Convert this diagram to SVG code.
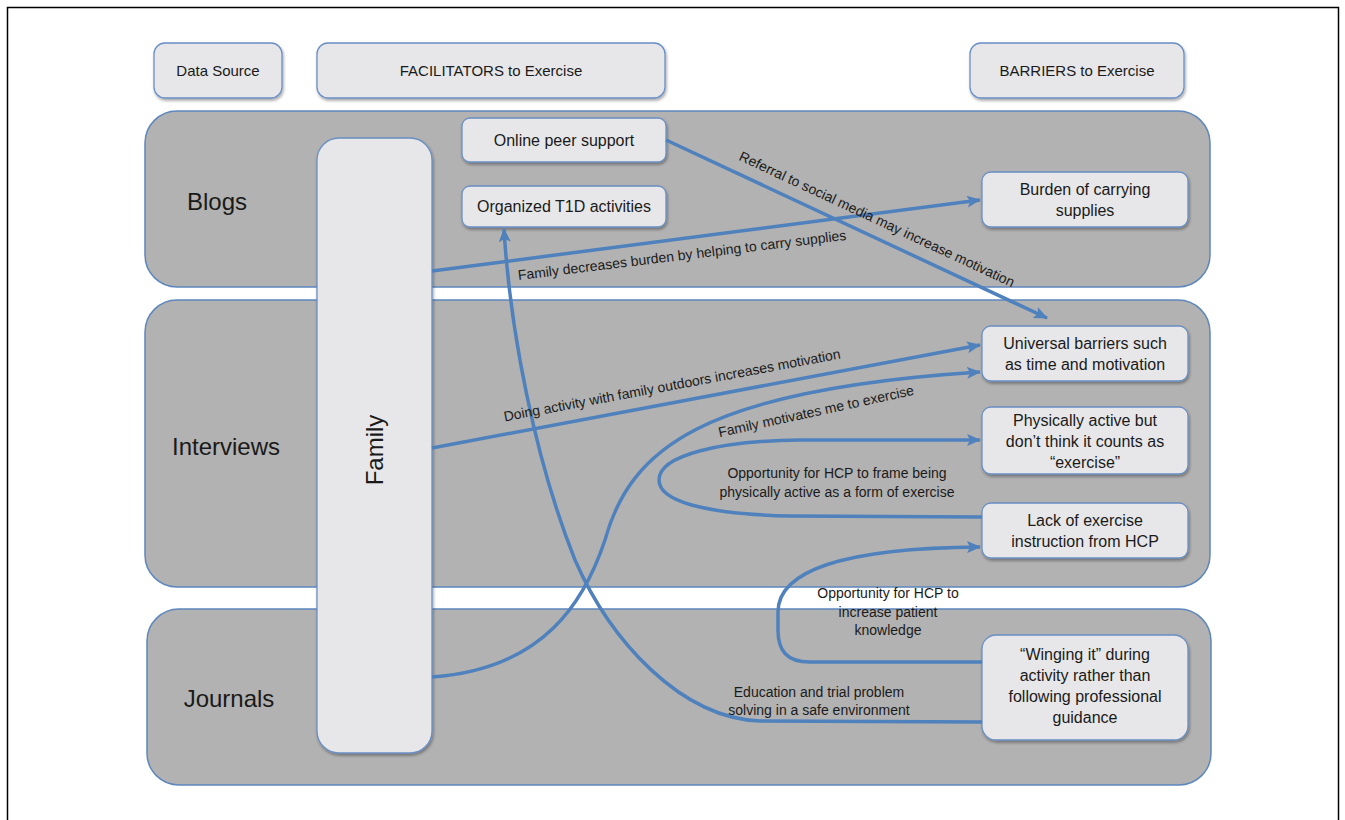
<svg xmlns="http://www.w3.org/2000/svg" width="1345" height="820" viewBox="0 0 1345 820">
<style>
  .band{fill:#B2B2B2;stroke:#5E87BD;stroke-width:1.5}
  .box{fill:#E7E7E9;stroke:#6A8FC4;stroke-width:1.3;filter:url(#sh)}
  .t{font-family:"Liberation Sans",Arial,sans-serif;fill:#1a1a1a}
  .hd{font-size:15px;text-anchor:middle}
  .nd{font-size:16px;text-anchor:middle}
  .bl{font-size:24px;text-anchor:middle}
  .lb{font-size:14px;text-anchor:middle}
  .cn{fill:none;stroke:#4F81BD;stroke-width:3.5}
  .ar{marker-end:url(#ah)}
</style>
<defs>
  <marker id="ah" markerWidth="14" markerHeight="12" refX="13" refY="6" orient="auto" markerUnits="userSpaceOnUse">
    <path d="M0,0 L14,6 L0,12 L3,6 Z" fill="#4F81BD"/>
  </marker>
  <filter id="sh" x="-10%" y="-10%" width="120%" height="130%">
    <feDropShadow dx="1" dy="2" stdDeviation="1.5" flood-color="#000" flood-opacity="0.35"/>
  </filter>
</defs>
<rect x="7.5" y="7.5" width="1331" height="830" fill="#fff" stroke="#000" stroke-width="1.5"/>

<g id="band-blogs">
  <rect class="band" x="145" y="111" width="1065" height="176" rx="32"/>
  <text class="t bl" x="217" y="210">Blogs</text>
</g>
<g id="band-interviews">
  <rect class="band" x="145" y="300" width="1065" height="287" rx="32"/>
  <text class="t bl" x="226" y="455">Interviews</text>
</g>
<g id="band-journals">
  <rect class="band" x="147" y="609" width="1064" height="176" rx="32"/>
  <text class="t bl" x="229" y="707">Journals</text>
</g>

<g id="hdr-datasource">
  <rect class="box" x="154" y="43" width="128" height="55" rx="11"/>
  <text class="t hd" x="218" y="76">Data Source</text>
</g>
<g id="hdr-facilitators">
  <rect class="box" x="317" y="43" width="348" height="55" rx="11"/>
  <text class="t hd" x="491" y="76">FACILITATORS to Exercise</text>
</g>
<g id="hdr-barriers">
  <rect class="box" x="970" y="43" width="214" height="55" rx="11"/>
  <text class="t hd" x="1077" y="76">BARRIERS to Exercise</text>
</g>

<g id="node-family">
  <rect class="box" x="317" y="138" width="115" height="615" rx="22"/>
  <text class="t bl" transform="translate(383,450) rotate(-90)" x="0" y="0">Family</text>
</g>
<g id="node-online">
  <rect class="box" x="462" y="118" width="204" height="44" rx="8"/>
  <text class="t nd" x="564" y="146">Online peer support</text>
</g>
<g id="node-t1d">
  <rect class="box" x="462" y="186" width="204" height="41" rx="8"/>
  <text class="t nd" x="564" y="212">Organized T1D activities</text>
</g>
<g id="node-burden">
  <rect class="box" x="982" y="172" width="206" height="55" rx="9"/>
  <text class="t nd" x="1085" y="195">Burden of carrying</text>
  <text class="t nd" x="1085" y="216">supplies</text>
</g>
<g id="node-universal">
  <rect class="box" x="982" y="326" width="206" height="55" rx="9"/>
  <text class="t nd" x="1085" y="349">Universal barriers such</text>
  <text class="t nd" x="1085" y="370">as time and motivation</text>
</g>
<g id="node-physically">
  <rect class="box" x="982" y="407" width="206" height="67" rx="9"/>
  <text class="t nd" x="1085" y="426">Physically active but</text>
  <text class="t nd" x="1085" y="447">don’t think it counts as</text>
  <text class="t nd" x="1085" y="468">“exercise”</text>
</g>
<g id="node-lack">
  <rect class="box" x="982" y="503" width="206" height="55" rx="9"/>
  <text class="t nd" x="1085" y="526">Lack of exercise</text>
  <text class="t nd" x="1085" y="547">instruction from HCP</text>
</g>
<g id="node-winging">
  <rect class="box" x="982" y="635" width="206" height="105" rx="14"/>
  <text class="t nd" x="1085" y="660">“Winging it” during</text>
  <text class="t nd" x="1085" y="681">activity rather than</text>
  <text class="t nd" x="1085" y="702">following professional</text>
  <text class="t nd" x="1085" y="723">guidance</text>
</g>

<g id="connectors">
  <path class="cn ar" d="M666,140 L1047,318"/>
  <path class="cn ar" d="M432,271 L980,200"/>
  <path class="cn ar" d="M432,448 L980,345"/>
  <path class="cn ar" d="M432,677 C545,669 585,600 605,540 C630,450 700,390 980,372"/>
  <path class="cn ar" d="M982,517 L790,516 C700,514 659,500 659,480 C659,455 720,441 800,440 L980,440"/>
  <path class="cn ar" d="M982,662 L810,662 C786,662 778,650 778,630 L778,612 C778,572 840,548 980,547"/>
  <path class="cn ar" d="M982,722 L760,721 C680,718 610,640 575,560 C535,460 510,330 504,229"/>

  <text class="t lb" transform="rotate(25 877 219)" x="877" y="224">Referral to social media may increase motivation</text>
  <text class="t lb" transform="rotate(-7 682 255)" x="682" y="260">Family decreases burden by helping to carry supplies</text>
  <text class="t lb" transform="rotate(-10.6 672 385)" x="672" y="390">Doing activity with family outdoors increases motivation</text>
  <text class="t lb" transform="rotate(-12.3 816 411)" x="816" y="416">Family motivates me to exercise</text>
  <text class="t lb" x="837" y="478">Opportunity for HCP to frame being</text>
  <text class="t lb" x="837" y="497">physically active as a form of exercise</text>
  <text class="t lb" x="888" y="598">Opportunity for HCP to</text>
  <text class="t lb" x="888" y="617">increase patient</text>
  <text class="t lb" x="888" y="635">knowledge</text>
  <text class="t lb" x="819" y="697">Education and trial problem</text>
  <text class="t lb" x="819" y="715">solving in a safe environment</text>
</g>
</svg>
